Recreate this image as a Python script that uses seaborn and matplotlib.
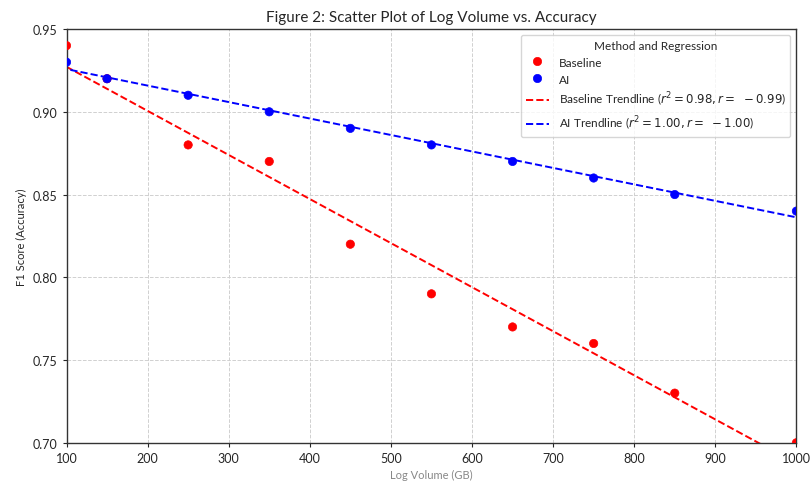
import numpy as np
import pandas as pd
import matplotlib
matplotlib.use("Agg")
import matplotlib.pyplot as plt
import seaborn as sns

log_volume = [100, 150, 250, 350, 450, 550, 650, 750, 850, 1000]
baseline_f1 = [0.94, 0.92, 0.88, 0.87, 0.82, 0.79, 0.77, 0.76, 0.73, 0.70]
ai_f1 = [0.93, 0.92, 0.91, 0.90, 0.89, 0.88, 0.87, 0.86, 0.85, 0.84]
methods = ["Baseline", "AI"]
colors = {"Baseline": "red", "AI": "blue"}

df = pd.DataFrame({
    "Log Volume (GB)": log_volume * 2,
    "F1 Score (Accuracy)": baseline_f1 + ai_f1,
    "Method": ["Baseline"] * len(log_volume) + ["AI"] * len(log_volume),
})

sns.set_style("whitegrid", {"grid.linestyle": "--", "grid.color": "#d0d0d0",
                            "axes.edgecolor": "#333333"})
plt.rcParams["font.family"] = ["Lato", "DejaVu Sans"]
plt.rcParams["grid.linewidth"] = 0.7

fig, ax = plt.subplots(figsize=(8.11, 4.85), dpi=100)

sns.scatterplot(data=df, x="Log Volume (GB)", y="F1 Score (Accuracy)", hue="Method",
                palette=colors, hue_order=methods, s=36, edgecolor=None,
                zorder=3, ax=ax)

for m in methods:
    sub = df[df["Method"] == m]
    r = np.corrcoef(sub["Log Volume (GB)"], sub["F1 Score (Accuracy)"])[0, 1]
    label = f"{m} Trendline ($r^2 = {r**2:.2f}, r =\\ {r:.2f}$)"
    sns.regplot(data=sub, x="Log Volume (GB)", y="F1 Score (Accuracy)", scatter=False,
                ci=None, truncate=False, color=colors[m], label=label,
                line_kws={"linestyle": "--", "linewidth": 1.4}, ax=ax)

ax.set_xlim(100, 1000)
ax.set_ylim(0.70, 0.95)
ax.set_xticks(range(100, 1001, 100))
ax.set_title("Figure 2: Scatter Plot of Log Volume vs. Accuracy", fontsize=11)
ax.set_xlabel("Log Volume (GB)", fontsize=8, color="#888888")
ax.set_ylabel("F1 Score (Accuracy)", fontsize=8)
ax.tick_params(labelsize=9, length=3, left=True, bottom=True)
for s in ax.spines.values():
    s.set_linewidth(1.0)

ax.legend(title="Method and Regression", fontsize=8.5, title_fontsize=8.5,
          loc="upper right", frameon=True)

fig.subplots_adjust(left=0.082, right=0.982, top=0.938, bottom=0.085)
fig.savefig("out.png", dpi=100)
